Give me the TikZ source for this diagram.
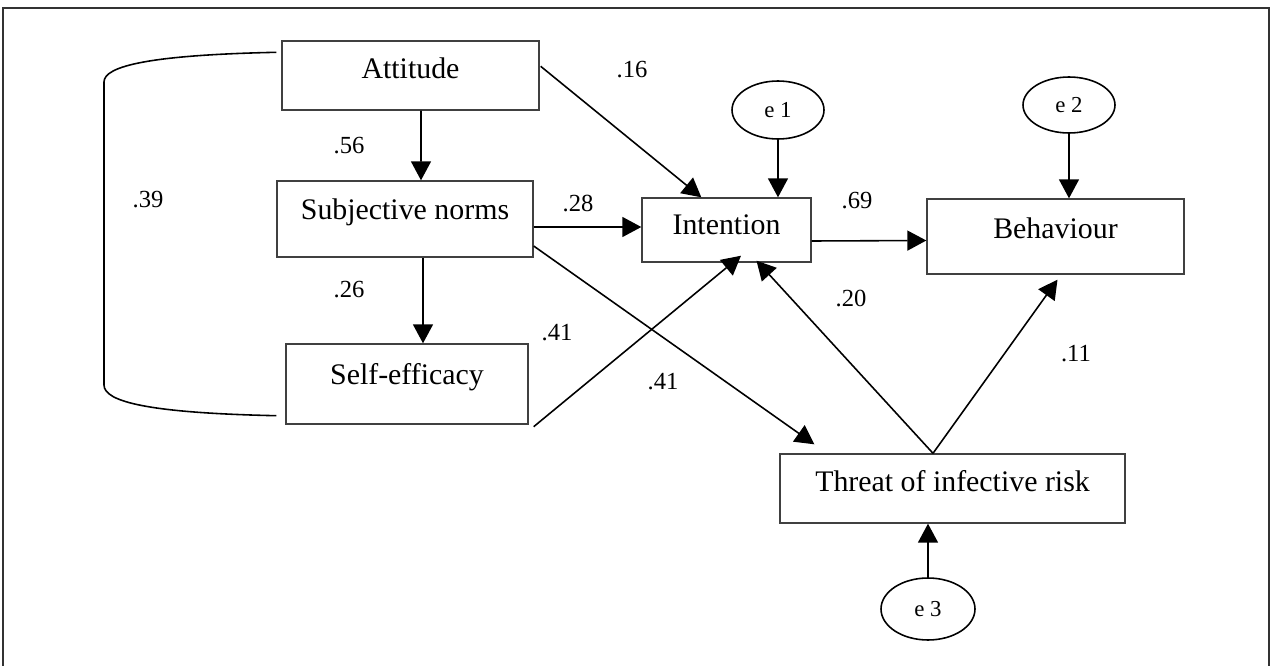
\documentclass[tikz,border=0pt]{standalone}
\usepackage{fontspec}
\setmainfont{Liberation Serif}
\usetikzlibrary{arrows.meta,shapes.geometric,calc}

\begin{document}
\begin{tikzpicture}[x=0.02cm,y=-0.02cm,
  box/.style={draw=black!75,line width=0.8pt,rectangle,inner sep=0pt,
    text height=0.7em,font=\fontsize{17}{20}\selectfont},
  err/.style={draw,ellipse,line width=0.9pt,inner sep=0pt,
    font=\fontsize{13}{16}\selectfont},
  coef/.style={inner sep=0pt,font=\fontsize{14}{17}\selectfont},
  arr/.style={line width=0.9pt,-{Triangle[length=0.38cm,width=0.4cm]}}]
\useasboundingbox (0,0) rectangle (1272,666);
% frame, open at the bottom
 \draw[line width=0.8pt,black!80] (3,666)--(3,8)--(1269,8)--(1269,666);
% boxes
 \node[box,minimum width=5.14cm,minimum height=1.38cm,text depth=0.33em] (attitude) at (410.5,75.5) {Attitude};
 \node[box,minimum width=5.12cm,minimum height=1.52cm,text depth=0.6em] (norms) at (405,219) {Subjective norms};
 \node[box,minimum width=4.84cm,minimum height=1.6cm,text depth=0.6em] (efficacy) at (407,384) {Self-efficacy};
 \node[box,minimum width=3.38cm,minimum height=1.28cm,text depth=0.2em] (intention) at (726.5,230) {Intention};
 \node[box,minimum width=5.14cm,minimum height=1.5cm,text depth=0.5em] (behaviour) at (1055.5,236.5) {Behaviour};
 \node[box,minimum width=6.9cm,minimum height=1.38cm,text depth=0.37em] (threat) at (952.5,488.5) {Threat of infective risk};
% error terms
 \node[err,minimum width=1.84cm,minimum height=1.16cm] (e1) at (778,110) {e 1};
 \node[err,minimum width=1.84cm,minimum height=1.12cm] (e2) at (1069,105) {e 2};
 \node[err,minimum width=1.88cm,minimum height=1.24cm] (e3) at (928,609) {e 3};
% paths
 \draw[arr] ($(attitude.north east)+(1,26)$)--($(intention.north west)+(60,0)$);
 \draw[arr] ($(attitude.south)+(10.5,0)$)--($(norms.north)+(16,0)$);
 \draw[arr] ($(norms.south)+(18,0)$)--($(efficacy.north)+(16,0)$);
 \draw[arr] ($(norms.east)+(0,8)$)--($(intention.west)+(0,-3)$);
 \draw[arr] ($(norms.east)+(0,27)$)--($(threat.north west)+(35,-9)$);
 \draw[arr] ($(efficacy.south east)+(5,2)$)--($(intention.south)+(14.5,-7)$);
 \draw[arr] ($(intention.east)+(0,11)$)--($(behaviour.west)+(0,4)$);
 \draw[arr] (e1.south)--(e1.south |- intention.north);
 \draw[arr] (e2.south)--(e2.south |- behaviour.north);
 \draw[arr] ($(threat.north)+(-19.5,0)$)--($(intention.south)+(30,-2)$);
 \draw[arr] ($(threat.north)+(-19.5,0)$)--($(behaviour.south)+(2,5)$);
 \draw[arr] (e3.north)--(e3.north |- threat.south);
% correlation
 \coordinate (cortop) at ($(attitude.north west)+(-5,12)$);
 \coordinate (corbot) at ($(efficacy.south west)+(-9,-9)$);
 \draw[line width=0.9pt] (cortop) .. controls (150,55) and (104,66) .. (104,82)
   --(104,385) .. controls (104,402) and (150,413) .. (corbot);
% coefficients
 \node[coef] (c16) at (632,70) {.16};
 \node[coef] (c56) at (349,146) {.56};
 \node[coef] (c39) at (148,200) {.39};
 \node[coef] (c26) at (349,290) {.26};
 \node[coef] (c28) at (578,203) {.28};
 \node[coef] (c69) at (857,201) {.69};
 \node[coef] (c41a) at (557,333) {.41};
 \node[coef] (c41b) at (663,382) {.41};
 \node[coef] (c20) at (851,298) {.20};
 \node[coef] (c11) at (1076,354) {.11};
\end{tikzpicture}
\end{document}
